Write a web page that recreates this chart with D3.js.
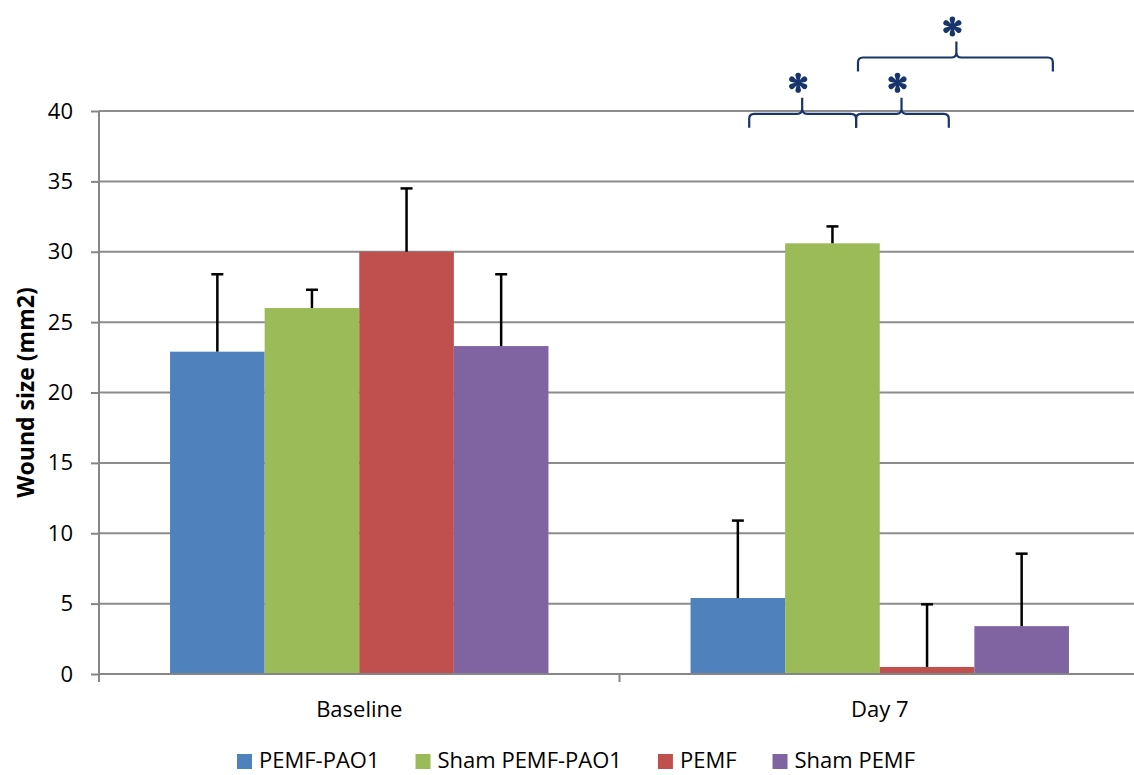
<!DOCTYPE html>
<html>
<head>
<meta charset="utf-8">
<script src="https://cdn.jsdelivr.net/npm/d3@7"></script>
<style>
  body { margin: 0; background: #fff; }
  text { font-family: "Open Sans", "Liberation Sans", sans-serif; }
</style>
</head>
<body>
<svg id="chart" width="1134" height="775"></svg>
<script>
// Chart data
const categories = ["Baseline", "Day 7"];
const seriesNames = ["PEMF-PAO1", "Sham PEMF-PAO1", "PEMF", "Sham PEMF"];
const seriesColors = ["#4F81BD", "#9BBB59", "#C0504D", "#8064A2"];
const values = [
  [22.9, 26.0, 30.0, 23.3],
  [5.4, 30.6, 0.5, 3.4]
];
const errors = [
  [5.5, 1.3, 4.5, 5.1],
  [5.5, 1.2, 4.45, 5.15]
];
const yTicks = [0, 5, 10, 15, 20, 25, 30, 35, 40];
// Significance brackets on Day 7 (in bar-index units and value units)
const brackets = [
  { from: 0.12, to: 1.25, level: 39.8, peak: 0.68 },
  { from: 1.25, to: 2.23, level: 39.8, peak: 1.73 },
  { from: 1.27, to: 3.33, level: 43.8, peak: 2.31 }
];

const svg = d3.select("#chart");
const margin = { top: 111, right: -6, bottom: 101, left: 99 };
const width = 1134 - margin.left - margin.right;
const height = 775 - margin.top - margin.bottom;

const g = svg.append("g").attr("transform", `translate(${margin.left},${margin.top})`);

const y = d3.scaleLinear().domain([0, 40]).range([height, 0]);
const x0 = d3.scaleBand().domain(categories).range([0, width]);
const groupW = x0.bandwidth() * 0.727;
const x1 = d3.scaleBand().domain(d3.range(seriesNames.length))
  .range([(x0.bandwidth() - groupW) / 2, (x0.bandwidth() + groupW) / 2]);

// Gridlines
g.selectAll(".grid").data(yTicks.filter(d => d > 0)).enter()
  .append("line")
  .attr("x1", 0).attr("x2", width)
  .attr("y1", d => y(d)).attr("y2", d => y(d))
  .attr("stroke", "#8c8c8c").attr("stroke-width", 2);

// Bars
const groups = g.selectAll(".grp").data(categories).enter()
  .append("g")
  .attr("transform", d => `translate(${x0(d)},0)`);

groups.each(function (cat, ci) {
  const grp = d3.select(this);
  const rows = values[ci].map((v, si) => ({ v, e: errors[ci][si], si }));
  grp.selectAll("rect").data(rows).enter()
    .append("rect")
    .attr("x", d => x1(d.si))
    .attr("width", x1.bandwidth())
    .attr("y", d => y(d.v))
    .attr("height", d => y(0) - y(d.v))
    .attr("fill", d => seriesColors[d.si]);

  const eb = grp.selectAll(".err").data(rows).enter().append("g");
  eb.append("line")
    .attr("x1", d => x1(d.si) + x1.bandwidth() / 2)
    .attr("x2", d => x1(d.si) + x1.bandwidth() / 2)
    .attr("y1", d => y(d.v)).attr("y2", d => y(d.v + d.e))
    .attr("stroke", "#000").attr("stroke-width", 2.5);
  eb.append("line")
    .attr("x1", d => x1(d.si) + x1.bandwidth() / 2 - 6)
    .attr("x2", d => x1(d.si) + x1.bandwidth() / 2 + 6)
    .attr("y1", d => y(d.v + d.e)).attr("y2", d => y(d.v + d.e))
    .attr("stroke", "#000").attr("stroke-width", 2.5);
});

// Y axis
const yAxis = g.append("g")
  .call(d3.axisLeft(y).tickValues(yTicks).tickSize(8).tickPadding(18));
yAxis.select(".domain").attr("stroke", "#868686").attr("stroke-width", 2).attr("d", `M0,${height + 8}V0`);
yAxis.selectAll(".tick line").attr("stroke", "#868686").attr("stroke-width", 2);
yAxis.selectAll(".tick text").style("font-size", "22px").style("font-family", "'Open Sans', sans-serif").attr("fill", "#000");

// X axis
const xAxisG = g.append("g").attr("transform", `translate(0,${height})`);
xAxisG.append("line").attr("x1", 0).attr("x2", width)
  .attr("stroke", "#868686").attr("stroke-width", 2);
xAxisG.selectAll(".xt").data([0, x0.bandwidth(), width]).enter()
  .append("line")
  .attr("x1", d => d).attr("x2", d => d)
  .attr("y1", 0).attr("y2", 8)
  .attr("stroke", "#868686").attr("stroke-width", 2);
xAxisG.selectAll(".xl").data(categories).enter()
  .append("text")
  .attr("x", d => x0(d) + x0.bandwidth() / 2)
  .attr("y", 43)
  .attr("text-anchor", "middle")
  .style("font-size", "22px")
  .style("fill", "#000")
  .text(d => d);

// Axis title
svg.append("text")
  .attr("transform", `translate(34,${margin.top + height / 2}) rotate(-90)`)
  .attr("text-anchor", "middle")
  .style("font-size", "23px")
  .style("font-weight", "bold")
  .style("fill", "#000")
  .text("Wound size (mm2)");

// Significance brackets
const navy = "#17346B";
const barPos = i => x0("Day 7") + x1(0) + x1.bandwidth() * (i + 0.5);
function asterisk(cx, cy, r) {
  // six teardrop petals
  const p = d3.path();
  for (let k = 0; k < 6; k++) {
    const a = (k * 60 - 90) * Math.PI / 180;
    const tx = cx + Math.cos(a) * (r - 2.8), ty = cy + Math.sin(a) * (r - 2.8);
    const nx = -Math.sin(a), ny = Math.cos(a);
    p.moveTo(cx + nx * 0.8, cy + ny * 0.8);
    p.lineTo(tx + nx * 2.8, ty + ny * 2.8);
    p.arc(tx, ty, 2.8, a + Math.PI / 2, a - Math.PI / 2, true);
    p.lineTo(cx - nx * 0.8, cy - ny * 0.8);
    p.closePath();
  }
  return p.toString();
}
brackets.forEach(b => {
  const xa = barPos(b.from), xb = barPos(b.to), xp = barPos(b.peak);
  const yl = y(b.level), ye = yl + 14, yp = yl - 16, r = 5;
  const path = d3.path();
  path.moveTo(xa, ye);
  path.lineTo(xa, yl + r);
  path.quadraticCurveTo(xa, yl, xa + r, yl);
  path.lineTo(xp - r, yl);
  path.quadraticCurveTo(xp, yl, xp, yl - r);
  path.lineTo(xp, yp);
  path.moveTo(xp, yl - r);
  path.quadraticCurveTo(xp, yl, xp + r, yl);
  path.lineTo(xb - r, yl);
  path.quadraticCurveTo(xb, yl, xb, yl + r);
  path.lineTo(xb, ye);
  g.append("path").attr("d", path.toString())
    .attr("fill", "none").attr("stroke", navy).attr("stroke-width", 2.2);
  g.append("path")
    .attr("d", asterisk(xp - 4, yp - 15, 10))
    .attr("fill", navy);
});

// Legend
const legend = svg.append("g");
let lx = 0;
seriesNames.forEach((name, i) => {
  const item = legend.append("g").attr("transform", `translate(${lx},0)`);
  item.append("rect").attr("x", 0).attr("y", 754).attr("width", 15).attr("height", 15)
    .attr("fill", seriesColors[i]);
  const t = item.append("text").attr("x", 22).attr("y", 768)
    .style("font-size", "22px").style("fill", "#000").text(name);
  lx += 22 + t.node().getComputedTextLength() + 36;
});
const legendW = lx - 36;
legend.attr("transform", `translate(${576 - legendW / 2},0)`);
</script>
</body>
</html>
